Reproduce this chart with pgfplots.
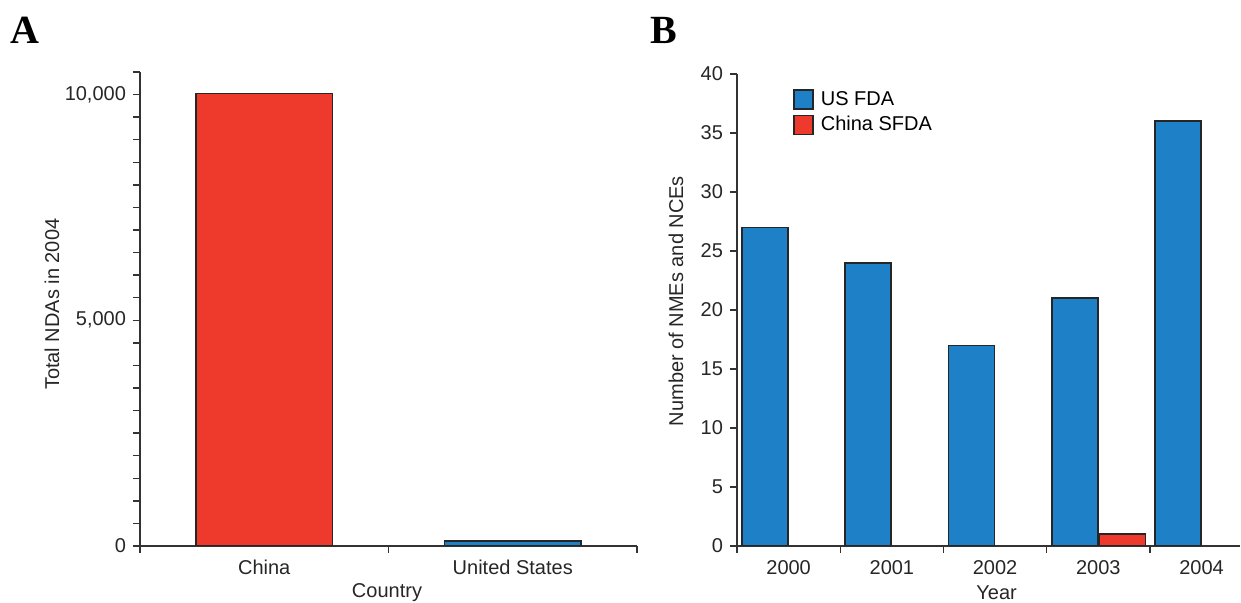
\documentclass[border=0pt]{standalone}
\usepackage{fontspec}
\setmainfont{Liberation Sans}
\newfontfamily\panelfont{Liberation Serif}
\usepackage{pgfplots}
\pgfplotsset{compat=1.18}
\definecolor{barblue}{HTML}{1E80C6}
\definecolor{barred}{HTML}{EE3A2C}
\definecolor{axgray}{HTML}{333333}
\begin{document}
\fontsize{10}{12}\selectfont
\begin{tikzpicture}
\path[use as bounding box] (0pt,0pt) rectangle (620.5pt,301.5pt);
\pgfplotsset{
 common/.style={
  scale only axis,
  axis x line=bottom, axis y line=left,
  axis line style={-, draw=axgray, line width=0.7pt},
  tick align=outside,
  tick style={draw=axgray, line width=0.7pt},
  major tick length=3.5pt, minor tick length=3.5pt,
  /pgf/number format/assume math mode=true,
  tick label style={font=\fontsize{10}{12}\selectfont, text=black!85},
  label style={font=\fontsize{10}{12}\selectfont, text=black!85},
  major x tick style={draw=none},
  scaled y ticks=false,
  ymin=0,
 }
}
\begin{axis}[common,
  at={(70pt,28.5pt)}, anchor=south west,
  width=248.5pt, height=237pt,
  xmin=0.5, xmax=2.5,
  xtick={1,2}, xticklabels={China, United States},
  minor xtick={0.5,1.5,2.5},
  ymax=10500,
  ytick={0,5000,10000},
  minor ytick={500,1000,...,10500},
  /pgf/number format/1000 sep={,},
  xlabel={Country}, ylabel={Total NDAs in 2004},
  xlabel style={at={(axis description cs:0.497,0)}, anchor=center, yshift=-23.5pt},
  ylabel style={at={(axis description cs:0,0.51)}, anchor=center, yshift=44pt},
]
\addplot[ybar, bar shift=0, bar width=0.548, fill=barred, draw=black!85, line width=0.8pt] coordinates {(1,10020)};
\addplot[ybar, bar shift=0, bar width=0.548, fill=barblue, draw=black!85, line width=0.8pt] coordinates {(2,113)};
\end{axis}
\begin{axis}[common,
  at={(368.5pt,28.5pt)}, anchor=south west,
  width=251.5pt, height=236pt,
  xmin=-0.5, xmax=4.372,
  xtick={0,1,2,3,4}, xticklabels={2000,2001,2002,2003,2004},
  minor xtick={-0.5,0.5,1.5,2.5,3.5},
  ymax=40, ytick={0,5,...,40},
  xlabel={Year}, ylabel={Number of NMEs and NCEs},
  xlabel style={at={(axis description cs:0.516,0)}, anchor=center, yshift=-23.5pt},
  ylabel style={at={(axis description cs:0,0.519)}, anchor=center, yshift=30.5pt},
  legend cell align=left,
  legend style={at={(axis description cs:0.111,0.973)}, anchor=north west, draw=none, fill=none, font=\fontsize{10}{12}\selectfont, row sep=0pt, inner sep=0pt},
  legend image code/.code={\draw[#1,/tikz/.cd] (0pt,-4.75pt) rectangle (9.5pt,4.75pt); \path (11pt,0pt);},
]
\addplot[ybar, bar shift=-0.229, bar width=0.4455, fill=barblue, draw=black!85, line width=0.8pt] coordinates {(0,27)(1,24)(2,17)(3,21)(4,36)};
\addplot[ybar, bar shift=0.234, bar width=0.4455, fill=barred, draw=black!85, line width=0.8pt] coordinates {(3,1)};
\legend{US FDA, China SFDA}
\end{axis}
\node[font=\panelfont\bfseries\fontsize{20}{24}\selectfont] at (12.5pt,286.5pt) {A};
\node[font=\panelfont\bfseries\fontsize{20}{24}\selectfont] at (332pt,286.5pt) {B};
\end{tikzpicture}
\end{document}
